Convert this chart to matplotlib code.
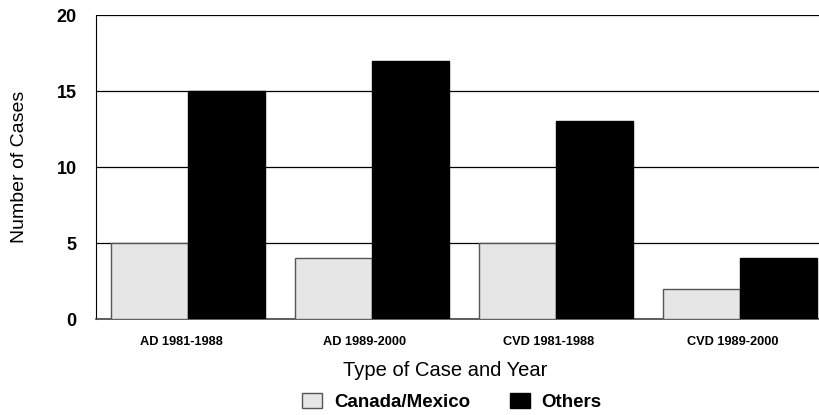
import matplotlib
matplotlib.use("Agg")
import matplotlib.pyplot as plt
import matplotlib.transforms as mtransforms
import numpy as np

plt.rcParams['font.family'] = ['Liberation Sans', 'DejaVu Sans']

categories = ["AD 1981-1988", "AD 1989-2000", "CVD 1981-1988", "CVD 1989-2000"]
canada_mexico = [5, 4, 5, 2]
others = [15, 17, 13, 4]
yticks = [0, 5, 10, 15, 20]

fig = plt.figure(figsize=(8.19, 4.15), dpi=100)
ax = fig.add_axes([96/819, 1-319/415, 1-96/819, (319-15)/415])

x = np.arange(len(categories))
w = 0.418
ax.set_axisbelow(True)
ax.yaxis.grid(True, color='black', linewidth=0.9)
ax.bar(x - w/2, canada_mexico, width=w, color='#e6e6e6', edgecolor='#555555', linewidth=1.0, label='Canada/Mexico', zorder=3)
ax.bar(x + w/2, others, width=w, color='black', edgecolor='black', linewidth=1.0, label='Others', zorder=3)

ax.set_xlim(-0.5, 3.43)
ax.set_ylim(0, 20)
ax.set_yticks(yticks)
ax.set_yticklabels([str(v) for v in yticks], fontsize=13, fontweight='bold')
ax.set_xticks(x)
ax.set_xticklabels(categories, fontsize=9.2, fontweight='bold')
ax.tick_params(axis='both', length=0)
ax.tick_params(axis='y', pad=14)
ax.tick_params(axis='x', pad=12.5)
offset = mtransforms.ScaledTranslation(-7/100, 0, fig.dpi_scale_trans)
for lab in ax.get_xticklabels():
    lab.set_transform(lab.get_transform() + offset)
for s in ['top', 'right']:
    ax.spines[s].set_visible(False)
ax.spines['left'].set_color('black')
ax.spines['bottom'].set_color('#444444')
ax.spines['bottom'].set_linewidth(1.2)

ax.set_ylabel('Number of Cases', fontsize=14)
ax.yaxis.set_label_coords((28-96)/723, 0.5)
ax.set_xlabel('Type of Case and Year', fontsize=14.5)
ax.xaxis.set_label_coords((445-96)/723, (319-361)/304)

leg = fig.legend(loc='center', bbox_to_anchor=(452/819, 1-402/415), ncol=2, frameon=False,
                 prop={'weight': 'bold', 'size': 13.5}, handlelength=1.07, handleheight=0.9,
                 columnspacing=2.1, handletextpad=0.64)

fig.savefig('out.png', dpi=100)
